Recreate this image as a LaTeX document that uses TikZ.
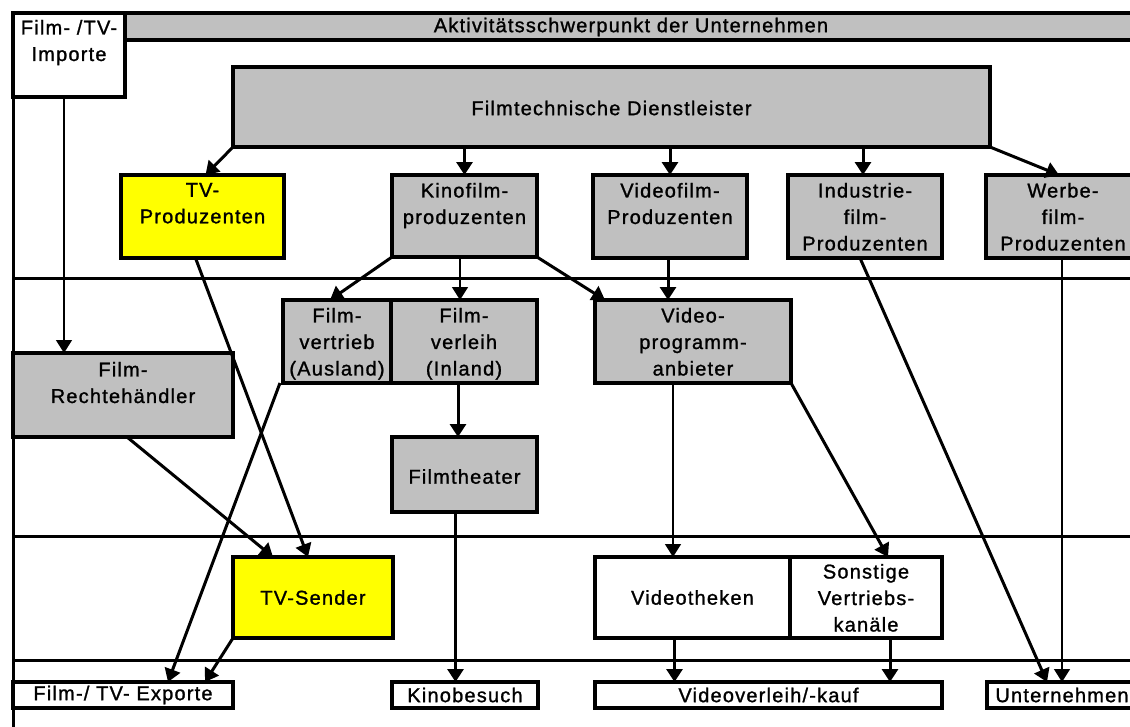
\documentclass[tikz,border=0pt]{standalone}
\usepackage{fontspec}
\setmainfont{Liberation Sans}[LetterSpace=6,FakeBold=1.2]
\usetikzlibrary{arrows.meta,calc}
\definecolor{boxgray}{HTML}{C0C0C0}
\definecolor{tvyellow}{HTML}{FFFF00}
\newcommand{\labfont}{\fontsize{20}{26.5}\selectfont}

\begin{document}
\begin{tikzpicture}[x=1pt,y=-1pt,
  box/.style={draw=black, line width=4.5pt, fill=boxgray, rectangle,
    inner sep=0pt, outer sep=0pt, anchor=north west},
  whitebox/.style={box, fill=white},
  yellowbox/.style={box, fill=tvyellow},
  lbl/.style={font=\labfont, align=center, inner sep=0pt, outer sep=0pt},
  toplbl/.style={lbl, anchor=north},
  heavy/.style={line width=3pt, -{Triangle[width=16pt,length=13pt]}},
  light/.style={line width=1.5pt, -{Triangle[width=16pt,length=13pt]}},
  lane/.style={line width=3pt},
]
\useasboundingbox[fill=white] (0,0) rectangle (1130,726);

% frame and lane separators
\draw[lane] (13,13) -- (1140,13);
\draw[lane] (13,12) -- (13,740);
\draw[lane] (13,278) -- (1140,278);
\draw[lane] (13,536) -- (1140,536);
\draw[lane] (13,660) -- (1140,660);

% header row
\node[whitebox, minimum width=112, minimum height=84] (imp) at (13,13) {};
\node[box, minimum width=1020, minimum height=27] (hdr) at (125,13) {};

% service providers
\node[box, minimum width=757, minimum height=80] (ftd) at (233,67) {};

% producers
\node[yellowbox, minimum width=163, minimum height=83] (tvp) at (121,175) {};
\node[box, minimum width=145, minimum height=82] (kino) at (392,175) {};
\node[box, minimum width=154, minimum height=83] (vfp) at (593,175) {};
\node[box, minimum width=154, minimum height=83] (ind) at (788,175) {};
\node[box, minimum width=154, minimum height=83] (wer) at (986,175) {};

% distribution
\node[box, minimum width=108, minimum height=83] (fvt) at (283,300) {};
\node[box, minimum width=146, minimum height=83] (fvl) at (391,300) {};
\node[box, minimum width=196, minimum height=83] (vpa) at (595,300) {};
\node[box, minimum width=220, minimum height=84] (frh) at (13,353) {};
\node[box, minimum width=145, minimum height=75] (fth) at (392,437) {};

% exhibition
\node[yellowbox, minimum width=160, minimum height=81] (tvs) at (233,557) {};
\node[whitebox, minimum width=195, minimum height=81] (vth) at (595,557) {};
\node[whitebox, minimum width=152, minimum height=81] (sons) at (790,557) {};

% end users
\node[whitebox, minimum width=220, minimum height=26] (exp) at (13,682) {};
\node[whitebox, minimum width=146, minimum height=26] (kib) at (392,682) {};
\node[whitebox, minimum width=347, minimum height=26] (vvk) at (595,682) {};
\node[whitebox, minimum width=150, minimum height=26] (unt) at (987,682) {};

% labels
\node[toplbl] (imp-t) at ([yshift=-7pt]imp.north) {Film- /TV-\\Importe};
\node[lbl] (hdr-t) at (631,27) {Aktivitätsschwerpunkt der Unternehmen};
\node[lbl] (ftd-t) at ([yshift=-1pt]ftd.center) {Filmtechnische Dienstleister};
\node[toplbl] (tvp-t) at ([yshift=-8pt]tvp.north) {TV-\\Produzenten};
\node[toplbl] (kino-t) at ([yshift=-8pt]kino.north) {Kinofilm-\\produzenten};
\node[toplbl] (vfp-t) at ([yshift=-8pt]vfp.north) {Videofilm-\\Produzenten};
\node[toplbl] (ind-t) at ([yshift=-8pt]ind.north) {Industrie-\\film-\\Produzenten};
\node[toplbl] (wer-t) at ([yshift=-8pt]wer.north) {Werbe-\\film-\\Produzenten};
\node[toplbl] (fvt-t) at ([yshift=-8pt]fvt.north) {Film-\\vertrieb\\(Ausland)};
\node[toplbl] (fvl-t) at ([yshift=-8pt]fvl.north) {Film-\\verleih\\(Inland)};
\node[toplbl] (vpa-t) at ([yshift=-8pt]vpa.north) {Video-\\programm-\\anbieter};
\node[toplbl] (frh-t) at ([yshift=-9pt]frh.north) {Film-\\Rechtehändler};
\node[lbl] (fth-t) at ([yshift=-2pt]fth.center) {Filmtheater};
\node[lbl] (tvs-t) at (tvs.center) {TV-Sender};
\node[lbl] (vth-t) at (vth.center) {Videotheken};
\node[toplbl] (sons-t) at ([yshift=-7pt]sons.north) {Sonstige\\Vertriebs-\\kanäle};
\node[lbl] (exp-t) at (exp.center) {Film-/ TV- Exporte};
\node[lbl] (kib-t) at (kib.center) {Kinobesuch};
\node[lbl] (vvk-t) at (vvk.center) {Videoverleih/-kauf};
\node[lbl] (unt-t) at (unt.center) {Unternehmen};

% flows
\draw[light] ([xshift=-5pt]imp.south) -- ([xshift=-5pt]imp.south |- frh.north);
\draw[heavy] (ftd.south west) -- ([xshift=3pt]tvp.north);
\draw[heavy] (kino.north |- ftd.south) -- (kino.north);
\draw[heavy] (vfp.north |- ftd.south) -- (vfp.north);
\draw[heavy] ([xshift=-2pt]ind.north |- ftd.south) -- ([xshift=-2pt]ind.north);
\draw[heavy] (ftd.south east) -- ([xshift=-4pt]wer.north);
\draw[heavy] ([xshift=-7pt]tvp.south) -- ([xshift=-5pt]tvs.north);
\draw[heavy] (kino.south west) -- ([xshift=-7pt]fvt.north);
\draw[light] ([xshift=-4pt]fvl.north |- kino.south) -- ([xshift=-4pt]fvl.north);
\draw[heavy] (kino.south east) -- ([xshift=10pt]vpa.north west);
\draw[heavy] ([xshift=-2pt]vfp.south) -- ([xshift=-2pt]vfp.south |- vpa.north);
\draw[heavy] ([xshift=-3pt]fvt.south west) -- ([xshift=45pt]exp.north);
\draw[heavy] ([xshift=4pt]frh.south) -- ([xshift=40pt]tvs.north west);
\draw[heavy] ([xshift=-6pt]fvl.south) -- ([xshift=-6pt]fvl.south |- fth.north);
\draw[heavy] (tvs.south west) -- ([xshift=82pt]exp.north);
\draw[heavy] ([xshift=-9pt]fth.south) -- ([xshift=-9pt]fth.south |- kib.north);
\draw[light] ([xshift=-20pt]vpa.south) -- ([xshift=-20pt]vpa.south |- vth.north);
\draw[heavy] (vpa.south east) -- ([xshift=22pt]sons.north);
\draw[heavy] ([xshift=-5pt]ind.south) -- ([xshift=-15pt]unt.north);
\draw[light] ([xshift=-1pt]wer.south) -- ([xshift=-1pt]wer.south |- unt.north);
\draw[heavy] ([xshift=-18pt]vth.south) -- ([xshift=-18pt]vth.south |- vvk.north);
\draw[heavy] ([xshift=24pt]sons.south) -- ([xshift=24pt]sons.south |- vvk.north);
\end{tikzpicture}
\end{document}
